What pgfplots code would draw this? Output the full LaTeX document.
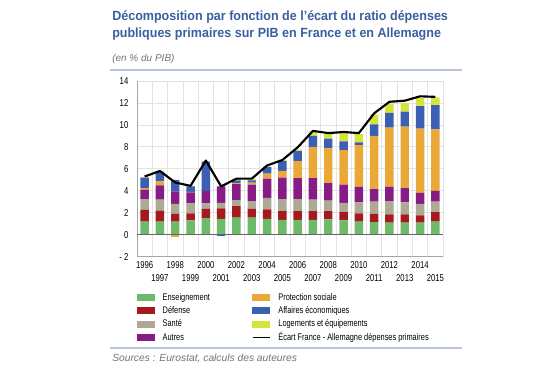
\documentclass[border=0pt]{standalone}
\usepackage{fontspec}
\setmainfont{Liberation Sans}
\newfontfamily\condfont[FakeStretch=0.77]{Liberation Sans}
\newfontfamily\titlefont[FakeStretch=0.94]{Liberation Sans}
\usepackage{pgfplots}
\usepackage{pgfplotstable}
\pgfplotsset{compat=1.18}

\definecolor{cGreen}{HTML}{6DBB6A}
\definecolor{cRed}{HTML}{A51A1F}
\definecolor{cGray}{HTML}{ADA995}
\definecolor{cPurple}{HTML}{871C87}
\definecolor{cOrange}{HTML}{E9A838}
\definecolor{cBlue}{HTML}{3B5FB2}
\definecolor{cYellow}{HTML}{D5E43A}
\definecolor{cTitle}{HTML}{3A5FA0}
\definecolor{cSep}{HTML}{B9C5DD}

\pgfplotstableread{
year ens def san aut pro aff log
1996 1.20 1.05 1.00 0.85 0.15 0.95 0.05
1997 1.20 1.00 1.00 1.30 0.35 0.85 0.10
1998 1.20 0.70 0.90 1.15 0.00 1.05 0.00
1999 1.30 0.65 0.90 1.00 0.05 0.50 0.05
2000 1.50 0.85 0.50 1.15 0.00 2.65 0.05
2001 1.45 0.95 0.50 1.50 0.00 0.00 0.05
2002 1.55 1.05 0.55 1.45 0.10 0.25 0.10
2003 1.55 0.80 0.70 1.50 0.20 0.20 0.10
2004 1.45 0.85 1.05 1.75 0.45 0.60 0.05
2005 1.35 0.80 1.10 1.95 0.60 0.90 0.10
2006 1.35 0.80 1.10 1.90 1.55 0.90 0.15
2007 1.35 0.80 1.05 1.95 2.85 1.00 0.40
2008 1.40 0.75 0.95 1.60 3.15 0.90 0.45
2009 1.30 0.75 0.85 1.65 3.15 0.80 0.80
2010 1.20 0.75 1.00 1.40 3.80 0.25 0.75
2011 1.15 0.75 1.10 1.15 4.85 1.05 0.90
2012 1.10 0.75 1.20 1.30 5.40 1.35 0.80
2013 1.10 0.75 1.10 1.30 5.60 1.35 0.80
2014 1.10 0.65 1.05 1.00 5.85 2.05 0.75
2015 1.20 0.85 0.95 1.00 5.60 2.20 0.70
}\barsdata

\pgfplotstableread{
year ecart
1996 5.30
1997 5.80
1998 4.75
1999 4.45
2000 6.75
2001 4.40
2002 5.10
2003 5.10
2004 6.30
2005 6.80
2006 7.95
2007 9.45
2008 9.25
2009 9.35
2010 9.25
2011 11.05
2012 12.10
2013 12.20
2014 12.60
2015 12.55
}\linedata

\pgfplotsset{
  commonaxis/.style={
    at={(102.75pt,85pt)}, anchor=south west,
    scale only axis, width=229.5pt, height=131.8pt,
    xmin=1995.5, xmax=2015.5, ymin=-2, ymax=14,
  },
}

\begin{document}
\begin{tikzpicture}[x=0.75pt,y=0.75pt]
\path[use as bounding box] (0,0) rectangle (555,370);

% titles
\node[anchor=base west, inner sep=0, text=cTitle, font=\titlefont\bfseries\fontsize{10}{12.5}\selectfont] at (112,349) {Décomposition par fonction de l’écart du ratio dépenses};
\node[anchor=base west, inner sep=0, text=cTitle, font=\titlefont\bfseries\fontsize{10}{12.5}\selectfont] at (112,332.5) {publiques primaires sur PIB en France et en Allemagne};
\node[anchor=base west, inner sep=0, text=black!55, font=\itshape\fontsize{7.5}{9}\selectfont] at (112,308.5) {(en \% du PIB)};
\draw[cSep, line width=0.8pt] (110,300) -- (462,300);
\draw[cSep, line width=0.8pt] (110,22) -- (462,22);
\node[anchor=base west, inner sep=0, text=black!55, font=\itshape\fontsize{7.7}{9}\selectfont] at (112,8.5) {Sources : Eurostat, calculs des auteures};

\begin{axis}[
  commonaxis,
  ybar stacked, bar width=0.55,
  axis lines*=left,
  axis line style={draw=gray!70, line width=0.6pt},
  x axis line style={-}, y axis line style={-},
  tick style={draw=none},
  major tick length=0pt, minor tick length=0pt,
  ytick={-2,0,2,4,6,8,10,12,14},
  yticklabels={- 2,0,2,4,6,8,10,12,14},
  yticklabel style={xshift=-3pt},
  ymajorgrids,
  xtick={1996,1998,2000,2002,2004,2006,2008,2010,2012,2014},
  xticklabels={1996,1998,2000,2002,2004,2006,2008,2010,2012,2014},
  extra x ticks={1997,1999,2001,2003,2005,2007,2009,2011,2013,2015},
  extra x tick labels={1997,1999,2001,2003,2005,2007,2009,2011,2013,2015},
  extra x tick style={tick label style={yshift=-10pt}},
  minor xtick={1995.5,1996.5,...,2015.5},
  xminorgrids,
  major grid style={draw=gray!22, line width=0.5pt},
  minor grid style={draw=gray!22, line width=0.5pt},
  tick label style={font=\condfont\fontsize{7.5}{9}\selectfont},
  /pgf/number format/assume math mode=true,
  legend columns=2,
  legend cell align=left,
  legend style={draw=none, fill=none, at={(0,-0.191)}, anchor=north west,
    inner sep=0pt,
    font=\condfont\fontsize{7.2}{8.5}\selectfont,
    nodes={text height=5.8pt, text depth=1.6pt, inner ysep=1.35pt, inner xsep=2.4pt},
    /tikz/every odd column/.append style={column sep=3.5pt},
    /tikz/every even column/.append style={column sep=29pt}},
]
\addplot[fill=cGreen, draw=none, forget plot] table[x=year, y=ens] {\barsdata};
\addplot[fill=cRed, draw=none, forget plot] table[x=year, y=def] {\barsdata};
\addplot[fill=cGray, draw=none, forget plot] table[x=year, y=san] {\barsdata};
\addplot[fill=cPurple, draw=none, forget plot] table[x=year, y=aut] {\barsdata};
\addplot[fill=cOrange, draw=none, forget plot] table[x=year, y=pro] {\barsdata};
\addplot[fill=cBlue, draw=none, forget plot] table[x=year, y=aff] {\barsdata};
\addplot[fill=cYellow, draw=none, forget plot] table[x=year, y=log] {\barsdata};

\addlegendimage{legend image code/.code={\fill[cGreen] (0pt,-2.25pt) rectangle (12.75pt,2.25pt);}}
\addlegendentry{Enseignement}
\addlegendimage{legend image code/.code={\fill[cOrange] (0pt,-2.25pt) rectangle (12.75pt,2.25pt);}}
\addlegendentry{Protection sociale}
\addlegendimage{legend image code/.code={\fill[cRed] (0pt,-2.25pt) rectangle (12.75pt,2.25pt);}}
\addlegendentry{Défense}
\addlegendimage{legend image code/.code={\fill[cBlue] (0pt,-2.25pt) rectangle (12.75pt,2.25pt);}}
\addlegendentry{Affaires économiques}
\addlegendimage{legend image code/.code={\fill[cGray] (0pt,-2.25pt) rectangle (12.75pt,2.25pt);}}
\addlegendentry{Santé}
\addlegendimage{legend image code/.code={\fill[cYellow] (0pt,-2.25pt) rectangle (12.75pt,2.25pt);}}
\addlegendentry{Logements et équipements}
\addlegendimage{legend image code/.code={\fill[cPurple] (0pt,-2.25pt) rectangle (12.75pt,2.25pt);}}
\addlegendentry{Autres}
\addlegendimage{legend image code/.code={\draw[black, line width=1.3pt] (0pt,0pt) -- (12.75pt,0pt);}}
\addlegendentry{Écart France - Allemagne dépenses primaires}
\end{axis}

\begin{axis}[commonaxis, hide axis]
\addplot[ybar, bar width=0.55, bar shift=0pt, fill=cOrange, draw=none] coordinates {(1998,-0.25)};
\addplot[ybar, bar width=0.55, bar shift=0pt, fill=cBlue, draw=none] coordinates {(2001,-0.12)};
\draw[gray!80!black, line width=0.7pt] (axis cs:1995.5,0) -- (axis cs:2015.5,0);
\addplot[black, line width=1.6pt, line join=round, mark=none] table[x=year, y=ecart] {\linedata};
\end{axis}
\end{tikzpicture}
\end{document}
